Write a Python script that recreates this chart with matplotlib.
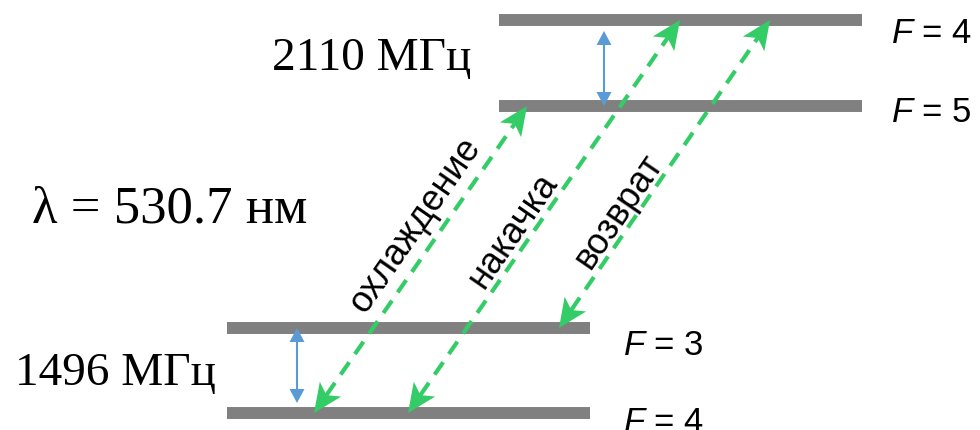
import numpy as np
import matplotlib
matplotlib.use('Agg')
import matplotlib.pyplot as plt
from matplotlib.patches import Polygon

plt.rcParams['font.family'] = 'Liberation Sans'
plt.rcParams['mathtext.fontset'] = 'custom'
plt.rcParams['mathtext.it'] = 'Liberation Sans:italic'
plt.rcParams['mathtext.rm'] = 'Liberation Sans'

# hyperfine levels (y in pixel units, top = 0)
upper_y = [21, 107]
upper_labels = ['$F$ = 4', '$F$ = 5']
upper_x = (499, 862)
lower_y = [329, 414]
lower_labels = ['$F$ = 3', '$F$ = 4']
lower_x = (227, 590)

# laser transitions: lower point -> upper point
trans_names = ['охлаждение', 'накачка', 'возврат']
trans_x0 = [314, 408, 559]
trans_y0 = [414, 414, 329]
trans_x1 = [527, 680, 770]
trans_y1 = [107, 21, 21]
trans_label_t = [0.57, 0.44, 0.35]
trans_label_off = [15, 8, 8]

# hyperfine splitting arrows
hfs_x = [604, 297]
hfs_y0 = [32, 329]
hfs_y1 = [107, 404]
hfs_text = ['2110 МГц', '1496 МГц']
hfs_text_xy = [(272, 70), (15, 385)]

wavelength_text = 'λ = 530.7 нм'

gray = '#808080'
green = '#33CC66'
blue = '#5B9BD5'

fig = plt.figure(figsize=(9.8, 4.31), dpi=100)
ax = fig.add_axes([0, 0, 1, 1])
ax.set_xlim(0, 980)
ax.set_ylim(431, 0)
ax.axis('off')


def head(ax, tip, u, length, half, color, notch=0.8):
    u = np.asarray(u, float)
    p = np.array([-u[1], u[0]])
    tip = np.asarray(tip, float)
    base = tip - u * length
    pts = [tip, base + p * half, tip - u * length * notch, base - p * half]
    ax.add_patch(Polygon(pts, closed=True, color=color, lw=0, zorder=4))
    return tip - u * length * notch


# levels
for y in upper_y:
    ax.plot(upper_x, [y, y], color=gray, lw=8.6, solid_capstyle='butt', zorder=1)
for y in lower_y:
    ax.plot(lower_x, [y, y], color=gray, lw=8.6, solid_capstyle='butt', zorder=1)

ax.text(891, 43, upper_labels[0], fontsize=25, ha='left', va='baseline')
ax.text(891, 122, upper_labels[1], fontsize=25, ha='left', va='baseline')
ax.text(623, 355, lower_labels[0], fontsize=25, ha='left', va='baseline')
ax.text(623, 432, lower_labels[1], fontsize=25, ha='left', va='baseline')

# transitions
for name, x0, y0, x1, y1, t, off in zip(trans_names, trans_x0, trans_y0, trans_x1, trans_y1,
                                        trans_label_t, trans_label_off):
    a = np.array([x0, y0], float)
    b = np.array([x1, y1], float)
    d = b - a
    u = d / np.hypot(*d)
    s_b = head(ax, b, u, 29, 13, green, notch=0.75)
    s_a = head(ax, a, -u, 29, 13, green, notch=0.75)
    ax.plot([s_a[0], s_b[0]], [s_a[1], s_b[1]], color=green, lw=3,
            dashes=(3.6, 2.4), dash_capstyle='butt', zorder=3)
    ang = np.degrees(np.arctan2(-d[1], d[0]))
    perp = np.array([u[1], -u[0]])  # upper-left side on screen
    c = a + d * t + perp * off
    ax.text(c[0], c[1], name, fontsize=26, rotation=ang, rotation_mode='anchor',
            ha='center', va='baseline')

# hyperfine splitting arrows
for x, y0, y1 in zip(hfs_x, hfs_y0, hfs_y1):
    s0 = head(ax, (x, y0), (0, -1), 14, 7.5, blue, notch=1.0)
    s1 = head(ax, (x, y1), (0, 1), 14, 7.5, blue, notch=1.0)
    ax.plot([x, x], [s0[1], s1[1]], color=blue, lw=1.5, zorder=3)

for txt, (x, y) in zip(hfs_text, hfs_text_xy):
    ax.text(x, y, txt, fontsize=34, family='Liberation Serif', ha='left', va='baseline')

ax.text(32, 223, wavelength_text, fontsize=38, family='Liberation Serif', ha='left', va='baseline')

fig.savefig('out.png', dpi=100)
